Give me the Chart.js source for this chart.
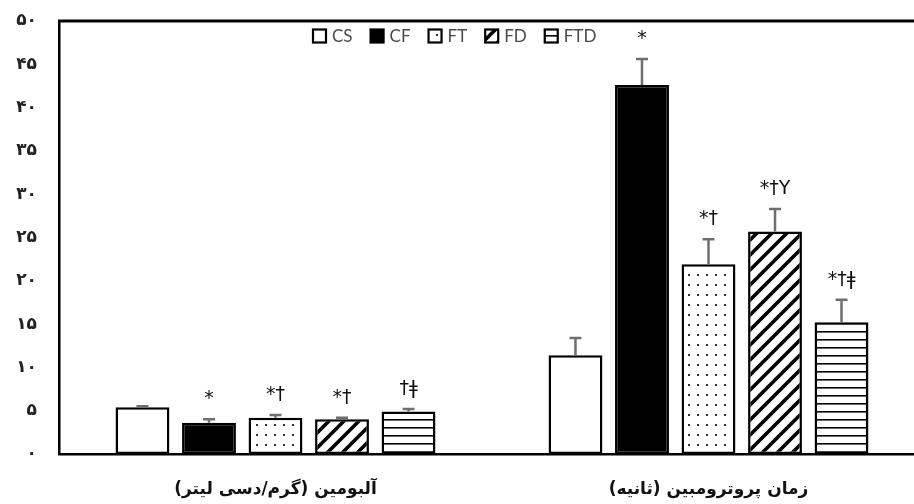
<!DOCTYPE html>
<html>
<head>
<meta charset="utf-8">
<script src="https://cdn.jsdelivr.net/npm/chart.js@4/dist/chart.umd.min.js"></script>
<style>
  html, body { margin: 0; padding: 0; background: #fff; overflow: hidden; }
  #wrap { width: 925px; height: 504px; }
</style>
</head>
<body>
<div id="wrap"><canvas id="c" width="925" height="504"></canvas></div>
<script>
// Categories (x axis) and y tick labels
const groups = ['آلبومین (گرم/دسی لیتر)', 'زمان پروترومبین (ثانیه)'];
const yTickLabels = ['۰', '۵', '۱۰', '۱۵', '۲۰', '۲۵', '۳۰', '۳۵', '۴۰', '۴۵', '۵۰'];

// Group names
const seriesNames = ['CS', 'CF', 'FT', 'FD', 'FTD'];

// Means per group: [albumin, prothrombin time]
const csMean  = [5.4, 11.4];
const cfMean  = [3.6, 42.6];
const ftMean  = [4.2, 21.9];
const fdMean  = [4.0, 25.7];
const ftdMean = [4.9, 15.2];

// Standard errors
const csErr  = [0.1, 2.0];
const cfErr  = [0.4, 3.0];
const ftErr  = [0.3, 2.9];
const fdErr  = [0.2, 2.6];
const ftdErr = [0.3, 2.6];

// Significance marks above each bar
const csSig  = ['', ''];
const cfSig  = ['*', '*'];
const ftSig  = ['*†', '*†'];
const fdSig  = ['*†', '*†Y'];
const ftdSig = ['†ǂ', '*†ǂ'];

// ---- fill patterns ----
function makeTile(w, h, draw) {
  const t = document.createElement('canvas');
  t.width = w; t.height = h;
  const g = t.getContext('2d');
  g.fillStyle = '#fff';
  g.fillRect(0, 0, w, h);
  draw(g, w, h);
  return document.getElementById('c').getContext('2d').createPattern(t, 'repeat');
}
const solidWhite = '#ffffff';
const solidBlack = '#000000';
const dotPattern = makeTile(9, 10, (g) => {
  g.fillStyle = '#333';
  g.fillRect(4, 4, 2, 2);
});
const diagPattern = makeTile(15, 15, (g, w, h) => {
  g.strokeStyle = '#000';
  g.lineWidth = 3.6;
  g.lineCap = 'square';
  g.beginPath();
  g.moveTo(-2, h + 2); g.lineTo(w + 2, -2);
  g.moveTo(-3, 3); g.lineTo(3, -3);
  g.moveTo(w - 3, h + 3); g.lineTo(w + 3, h - 3);
  g.stroke();
});
const hlinePattern = makeTile(8, 8, (g, w) => {
  g.fillStyle = '#000';
  g.fillRect(0, 3, w, 1.6);
});

const fills = [solidWhite, solidBlack, dotPattern, diagPattern, hlinePattern];
const means = [csMean, cfMean, ftMean, fdMean, ftdMean];
const errs  = [csErr, cfErr, ftErr, fdErr, ftdErr];
const sigs  = [csSig, cfSig, ftSig, fdSig, ftdSig];

const datasets = seriesNames.map((name, i) => ({
  label: name,
  data: means[i],
  errors: errs[i],
  marks: sigs[i],
  backgroundColor: fills[i],
  borderColor: '#000',
  borderWidth: 2.5,
  borderSkipped: false,
  barPercentage: 0.81,
  categoryPercentage: 0.768
}));

// Error bars (upper whisker) and significance marks
const errorBarPlugin = {
  id: 'errorBars',
  afterDatasetsDraw(chart) {
    const ctx = chart.ctx;
    const y = chart.scales.y;
    chart.data.datasets.forEach((ds, di) => {
      const meta = chart.getDatasetMeta(di);
      meta.data.forEach((bar, i) => {
        const top = y.getPixelForValue(ds.data[i] + ds.errors[i]);
        ctx.save();
        ctx.strokeStyle = '#6f6f6f';
        ctx.lineWidth = 2.5;
        ctx.beginPath();
        ctx.moveTo(bar.x, bar.y);
        ctx.lineTo(bar.x, top);
        ctx.moveTo(bar.x - 6, top);
        ctx.lineTo(bar.x + 6, top);
        ctx.stroke();
        if (ds.marks[i]) {
          ctx.fillStyle = '#111';
          ctx.font = '19px "DejaVu Sans"';
          ctx.textAlign = 'center';
          ctx.textBaseline = 'middle';
          ctx.fillText(ds.marks[i], bar.x, top - 20);
        }
        ctx.restore();
      });
    });
  }
};

// Frame line along the top of the plot and the in-plot legend
const framePlugin = {
  id: 'frame',
  afterDraw(chart) {
    const ctx = chart.ctx;
    const a = chart.chartArea;
    ctx.save();
    ctx.strokeStyle = '#000';
    ctx.lineWidth = 3;
    ctx.beginPath();
    ctx.moveTo(a.left - 1, a.top);
    ctx.lineTo(chart.width, a.top);
    ctx.stroke();

    // legend row
    ctx.font = '17px Lato';
    ctx.textBaseline = 'middle';
    ctx.textAlign = 'left';
    let x = 313;
    const cy = 36;
    const box = 13;
    chart.data.datasets.forEach((ds) => {
      ctx.fillStyle = ds.backgroundColor;
      ctx.fillRect(x, cy - box / 2, box, box);
      ctx.strokeStyle = '#000';
      ctx.lineWidth = 2.2;
      ctx.strokeRect(x, cy - box / 2, box, box);
      ctx.fillStyle = '#4a4a4a';
      ctx.fillText(ds.label, x + box + 6, cy + 1);
      x += box + 6 + ctx.measureText(ds.label).width + 18;
    });
    ctx.restore();
  }
};

new Chart(document.getElementById('c'), {
  type: 'bar',
  data: { labels: groups, datasets },
  options: {
    responsive: false,
    devicePixelRatio: 1,
    animation: false,
    layout: { padding: { top: 21, right: 0, left: 0, bottom: 0 } },
    plugins: {
      legend: { display: false },
      tooltip: { enabled: false }
    },
    scales: {
      x: {
        grid: { display: false, drawTicks: false },
        border: { color: '#000', width: 2.5 },
        ticks: {
          padding: 25,
          color: '#111',
          font: { family: '"DejaVu Sans"', size: 17, weight: 'bold' },
          callback: (v, i) => '\u202B' + groups[i] + '\u202C'
        },
        afterFit: (s) => { s.height = 50; s.paddingLeft = 0; s.paddingRight = 0; }
      },
      y: {
        min: 0,
        max: 50,
        grid: { display: false, drawTicks: false },
        border: { color: '#000', width: 2.5 },
        ticks: {
          stepSize: 5,
          padding: 22,
          color: '#222',
          font: { family: '"DejaVu Sans"', size: 17, weight: 'bold' },
          callback: (v, i) => yTickLabels[i]
        },
        afterFit: (s) => { s.width = 59; s.paddingTop = 0; s.paddingBottom = 0; }
      }
    }
  },
  plugins: [errorBarPlugin, framePlugin]
});
</script>
</body>
</html>
